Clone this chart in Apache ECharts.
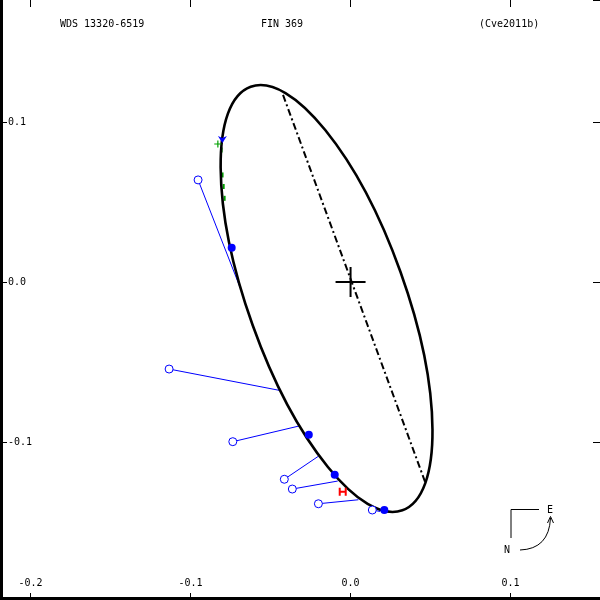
<!DOCTYPE html>
<html>
<head>
<meta charset="utf-8">
<script src="https://cdn.jsdelivr.net/npm/echarts@6/dist/echarts.min.js"></script>
<style>
html,body{margin:0;padding:0;background:#fff;}
#chart{width:600px;height:600px;}
</style>
</head>
<body>
<div id="chart"></div>
<script>
// ---- data (arcsec) ----
const titleLeft = 'WDS 13320-6519';
const titleMid = 'FIN 369';
const titleRight = '(Cve2011b)';
const xRange = [-0.2191, 0.1559];
const yRange = [-0.19875, 0.17625];
// orbit ellipse: centre x, centre y, semi-major, semi-minor, tilt (deg)
const orbitEllipse = [[-0.0150, -0.0103, 0.1406, 0.0491, -70.3]];
// line of nodes end points
const nodesX = [-0.0422, 0.0466];
const nodesY = [0.1169, -0.1250];
// open-circle observations and their computed positions on the orbit
const openX = [-0.0953, -0.1134, -0.0736, -0.0414, -0.0364, -0.0201, 0.0136];
const openY = [0.0638, -0.0544, -0.0998, -0.1233, -0.1294, -0.1386, -0.1425];
const calcX = [-0.0678, -0.0436, -0.0322, -0.0201, -0.0080, 0.0049, 0.0184];
const calcY = [-0.0066, -0.0679, -0.0900, -0.1089, -0.1244, -0.1361, -0.1434];
// filled-dot observations
const dotX = [-0.0743, -0.0261, -0.0099, 0.0211];
const dotY = [0.0214, -0.0954, -0.1204, -0.1425];
// green marks
const greenPlusX = [-0.0830];
const greenPlusY = [0.0863];
const greenTickX = [-0.0806, -0.0800, -0.0793, -0.0787];
const greenTickY = [0.0825, 0.0669, 0.0597, 0.0523];
// blue arrow mark
const arrowX = [-0.0801];
const arrowY = [0.0891];
// Hipparcos mark
const hipX = [-0.0049];
const hipY = [-0.1311];
// primary
const primaryX = [0];
const primaryY = [0];

const zip = (a, b) => a.map((v, i) => [v, b[i]]);
const BLUE = '#0000ff';
const FONT = 'DejaVu Sans Mono';

const chart = echarts.init(document.getElementById('chart'), null, {renderer: 'canvas'});

const fmt = v => v.toFixed(1);
function xAx(pos, labels) {
  return {
    type: 'value', min: xRange[0], max: xRange[1], position: pos,
    minInterval: 0.1, maxInterval: 0.1,
    axisLine: {show: false, onZero: false},
    axisTick: {show: true, inside: true, length: 7, lineStyle: {color: '#000', width: 1}},
    axisLabel: {show: labels, inside: true, margin: 12, formatter: fmt,
      showMinLabel: false, showMaxLabel: false,
      color: '#000', fontFamily: FONT, fontSize: 10},
    splitLine: {show: false}
  };
}
function yAx(pos, labels) {
  return {
    type: 'value', min: yRange[0], max: yRange[1], position: pos,
    minInterval: 0.1, maxInterval: 0.1,
    axisLine: {show: false, onZero: false},
    axisTick: {show: true, inside: true, length: 7, lineStyle: {color: '#000', width: 1}},
    axisLabel: {show: labels, inside: true, margin: 8, formatter: fmt,
      showMinLabel: false, showMaxLabel: false,
      color: '#000', fontFamily: FONT, fontSize: 10},
    splitLine: {show: false}
  };
}

const option = {
  animation: false,
  backgroundColor: '#fff',
  grid: {left: 0, right: 0, top: 0, bottom: 0},
  xAxis: [xAx('bottom', true), xAx('top', false)],
  yAxis: [yAx('left', true), yAx('right', false)],
  series: [
    { // green tick marks (under orbit)
      type: 'scatter', z: 1,
      data: zip(greenTickX, greenTickY),
      symbol: 'rect', symbolSize: [2, 5],
      itemStyle: {color: '#00a000', opacity: 1}
    },
    { // O-C lines
      type: 'lines', coordinateSystem: 'cartesian2d', z: 2,
      data: openX.map((x, i) => ({coords: [[x, openY[i]], [calcX[i], calcY[i]]]})),
      lineStyle: {color: BLUE, width: 1, opacity: 1}
    },
    { // line of nodes
      type: 'line', z: 3,
      data: zip(nodesX, nodesY),
      symbol: 'none',
      lineStyle: {color: '#000', width: 2, type: [7, 3, 2, 3]}
    },
    { // orbit ellipse
      type: 'custom', z: 4,
      data: orbitEllipse,
      encode: {x: 0, y: 1},
      renderItem: function (params, api) {
        const c = api.coord([api.value(0), api.value(1)]);
        const rx = api.size([api.value(2), 0])[0];
        const ry = api.size([0, api.value(3)])[1];
        return {
          type: 'ellipse',
          x: c[0], y: c[1],
          rotation: api.value(4) * Math.PI / 180,
          shape: {cx: 0, cy: 0, rx: rx, ry: ry},
          style: {fill: 'none', stroke: '#000', lineWidth: 2.6}
        };
      }
    },
    { // open circles
      type: 'scatter', z: 5,
      data: zip(openX, openY),
      symbol: 'circle', symbolSize: 8,
      itemStyle: {color: '#fff', borderColor: BLUE, borderWidth: 1, opacity: 1}
    },
    { // filled dots
      type: 'scatter', z: 6,
      data: zip(dotX, dotY),
      symbol: 'circle', symbolSize: 8,
      itemStyle: {color: BLUE, opacity: 1}
    },
    { // green plus
      type: 'scatter', z: 6,
      data: zip(greenPlusX, greenPlusY),
      symbol: 'path://M0,3h7v1.2h-7zM3,0h1.2v7h-1.2z', symbolSize: [7, 7],
      itemStyle: {color: '#00a000', opacity: 1}
    },
    { // blue arrow
      type: 'scatter', z: 7,
      data: zip(arrowX, arrowY),
      symbol: 'path://M0,0L4.5,2L9,0L4.5,7Z', symbolSize: [9, 7],
      itemStyle: {color: BLUE, opacity: 1}
    },
    { // Hipparcos H
      type: 'scatter', z: 7,
      data: zip(hipX, hipY),
      symbol: 'path://M0,0h2v8h-2zM6,0h2v8h-2zM0,3h8v2h-8z', symbolSize: [8, 8],
      itemStyle: {color: '#ff0000', opacity: 1}
    },
    { // primary
      type: 'scatter', z: 7,
      data: zip(primaryX, primaryY),
      symbol: 'path://M0,14h30v2h-30zM14,0h2v30h-2z', symbolSize: [30, 30],
      itemStyle: {color: '#000', opacity: 1}
    }
  ],
  graphic: [
    {type: 'rect', shape: {x: 0, y: 0, width: 3, height: 600}, style: {fill: '#000'}, z: 100},
    {type: 'rect', shape: {x: 0, y: 597, width: 600, height: 3}, style: {fill: '#000'}, z: 100},
    {type: 'text', x: 60, y: 24, style: {text: titleLeft, font: '10px ' + FONT, fill: '#000', textVerticalAlign: 'middle'}, z: 100},
    {type: 'text', x: 282, y: 24, style: {text: titleMid, font: '10px ' + FONT, fill: '#000', textAlign: 'center', textVerticalAlign: 'middle'}, z: 100},
    {type: 'text', x: 479, y: 24, style: {text: titleRight, font: '10px ' + FONT, fill: '#000', textVerticalAlign: 'middle'}, z: 100},
    // compass
    {type: 'polyline', shape: {points: [[511, 538], [511, 509.5], [539, 509.5]]}, style: {stroke: '#000', lineWidth: 1, fill: null}, z: 100},
    {type: 'text', x: 550, y: 510, style: {text: 'E', font: '10px ' + FONT, fill: '#000', textAlign: 'center', textVerticalAlign: 'middle'}, z: 100},
    {type: 'text', x: 507, y: 550, style: {text: 'N', font: '10px ' + FONT, fill: '#000', textAlign: 'center', textVerticalAlign: 'middle'}, z: 100},
    {type: 'bezierCurve', shape: {x1: 520, y1: 550, cpx1: 549, cpy1: 549, x2: 550.5, y2: 518}, style: {stroke: '#000', lineWidth: 1, fill: null}, z: 100},
    {type: 'polyline', shape: {points: [[547.5, 523], [550.5, 516.5], [553.5, 523]]}, style: {stroke: '#000', lineWidth: 1, fill: null}, z: 100}
  ]
};
chart.setOption(option);
</script>
</body>
</html>
